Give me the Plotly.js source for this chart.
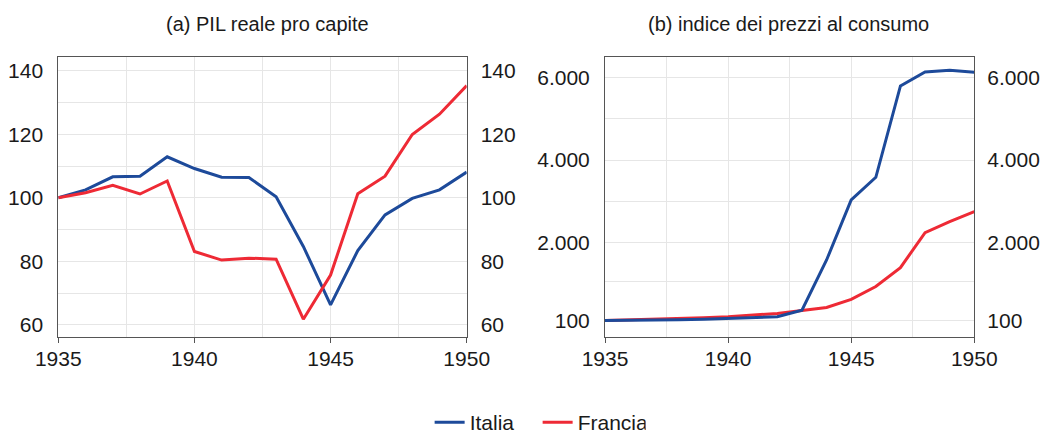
<!DOCTYPE html>
<html>
<head>
<meta charset="utf-8">
<script src="https://cdn.plot.ly/plotly-3.0.1.min.js"></script>
<style>html,body{margin:0;padding:0;background:#fff;overflow:hidden;}#chart{width:1047px;height:443px;}</style>
</head>
<body>
<div id="chart"></div>
<script>
// Data
const years = [1935,1936,1937,1938,1939,1940,1941,1942,1943,1944,1945,1946,1947,1948,1949,1950];
const pilItalia  = [100,102.5,106.6,106.8,112.9,109.2,106.5,106.4,100.3,84.7,66.3,83.4,94.6,99.8,102.5,108.1];
const pilFrancia = [100,101.6,103.9,101.2,105.3,83.1,80.4,81.0,80.7,61.8,75.7,101.3,106.8,119.9,126.3,135.3];
const cpiItalia  = [100,102,110,118,128,145,170,190,350,1570,3030,3580,5800,6140,6180,6130];
const cpiFrancia = [100,113,135,150,168,192,232,272,340,415,615,925,1385,2235,2500,2745];
const seriesNames = ['Italia','Francia'];
const panelTitles = ['(a) PIL reale pro capite','(b) indice dei prezzi al consumo'];
const xTickVals = [1935,1940,1945,1950];
const pilTickVals = [60,80,100,120,140];
const cpiTickVals = [100,2000,4000,6000];
const cpiTickText = ['100','2.000','4.000','6.000'];
const cpiMinorVals = [1050,3000,5000];

const blue = '#1d4a9a', red = '#ee2a35';
const font = {family:'"Liberation Sans", Arial, sans-serif', color:'#1a1a1a'};
const W = 1047, H = 443;
const pilRange = [56.3, 144.2];
const cpiRange = [-294, 6496];
const yDom = [(H-336.7)/H, (H-57.3)/H];
const frame = '#555';
const grid = '#e6e6e6';
const tickSize = 21;

const traces = [
  {x:years, y:pilItalia, name:seriesNames[0], type:'scatter', mode:'lines', line:{color:blue,width:3}, xaxis:'x', yaxis:'y', legendgroup:'it'},
  {x:years, y:pilFrancia, name:seriesNames[1], type:'scatter', mode:'lines', line:{color:red,width:3}, xaxis:'x', yaxis:'y', legendgroup:'fr'},
  {x:years, y:cpiFrancia, name:seriesNames[1], type:'scatter', mode:'lines', line:{color:red,width:3}, xaxis:'x2', yaxis:'y2', showlegend:false, legendgroup:'fr'},
  {x:years, y:cpiItalia, name:seriesNames[0], type:'scatter', mode:'lines', line:{color:blue,width:3}, xaxis:'x2', yaxis:'y2', showlegend:false, legendgroup:'it'}
];

const xCommon = {
  range:[1935,1950], tickvals:xTickVals, ticks:'outside', ticklen:5, tickcolor:frame,
  showline:true, linecolor:frame, linewidth:1, mirror:true,
  showgrid:true, gridcolor:grid, gridwidth:1, zeroline:false,
  minor:{dtick:2.5, tick0:1935, showgrid:true, gridcolor:grid, gridwidth:1},
  tickfont:{size:tickSize}, ticklabelstandoff:-2
};

const layout = {
  width:W, height:H, margin:{l:0,r:0,t:0,b:0},
  paper_bgcolor:'#fff', plot_bgcolor:'#fff', font:font,
  showlegend:true,
  legend:{orientation:'h', x:0.5135, xanchor:'center', y:0, yanchor:'bottom', font:{size:21}, traceorder:'normal', entrywidth:63, entrywidthmode:'pixels'},
  xaxis:Object.assign({}, xCommon, {domain:[58.3/W, 466.7/W], anchor:'y'}),
  xaxis2:Object.assign({}, xCommon, {domain:[605/W, 974.3/W], anchor:'y2'}),
  yaxis:{domain:yDom, anchor:'x', range:pilRange, tickvals:pilTickVals, showgrid:true, gridcolor:grid, zeroline:false,
    minor:{dtick:10, tick0:60, showgrid:true, gridcolor:grid}, showline:true, linecolor:frame, linewidth:1, mirror:true, tickfont:{size:tickSize}, ticklabelstandoff:10},
  yaxis3:{overlaying:'y', side:'right', anchor:'x', range:pilRange, tickvals:pilTickVals, showgrid:false, zeroline:false, showline:false, tickfont:{size:tickSize}, ticklabelstandoff:13},
  yaxis2:{domain:yDom, anchor:'x2', range:cpiRange, tickvals:cpiTickVals, ticktext:cpiTickText, showgrid:true, gridcolor:grid, zeroline:false,
    minor:{tickvals:cpiMinorVals, showgrid:true, gridcolor:grid}, showline:true, linecolor:frame, linewidth:1, mirror:true, tickfont:{size:tickSize}, ticklabelstandoff:10},
  yaxis4:{overlaying:'y2', side:'right', anchor:'x2', range:cpiRange, tickvals:cpiTickVals, ticktext:cpiTickText, showgrid:false, zeroline:false, showline:false, tickfont:{size:tickSize}, ticklabelstandoff:12},
  annotations:[
    {text:panelTitles[0], xref:'paper', yref:'paper', x:267/W, y:(H-24)/H, xanchor:'center', yanchor:'middle', showarrow:false, font:{size:20}},
    {text:panelTitles[1], xref:'paper', yref:'paper', x:788/W, y:(H-24)/H, xanchor:'center', yanchor:'middle', showarrow:false, font:{size:20}}
  ]
};
// empty traces so the right-hand mirror axes are drawn
traces.push({x:[1935], y:[null], xaxis:'x', yaxis:'y3', showlegend:false, hoverinfo:'skip', mode:'lines'});
traces.push({x:[1935], y:[null], xaxis:'x2', yaxis:'y4', showlegend:false, hoverinfo:'skip', mode:'lines'});

Plotly.newPlot('chart', traces, layout, {displayModeBar:false, staticPlot:true});
</script>
</body>
</html>
